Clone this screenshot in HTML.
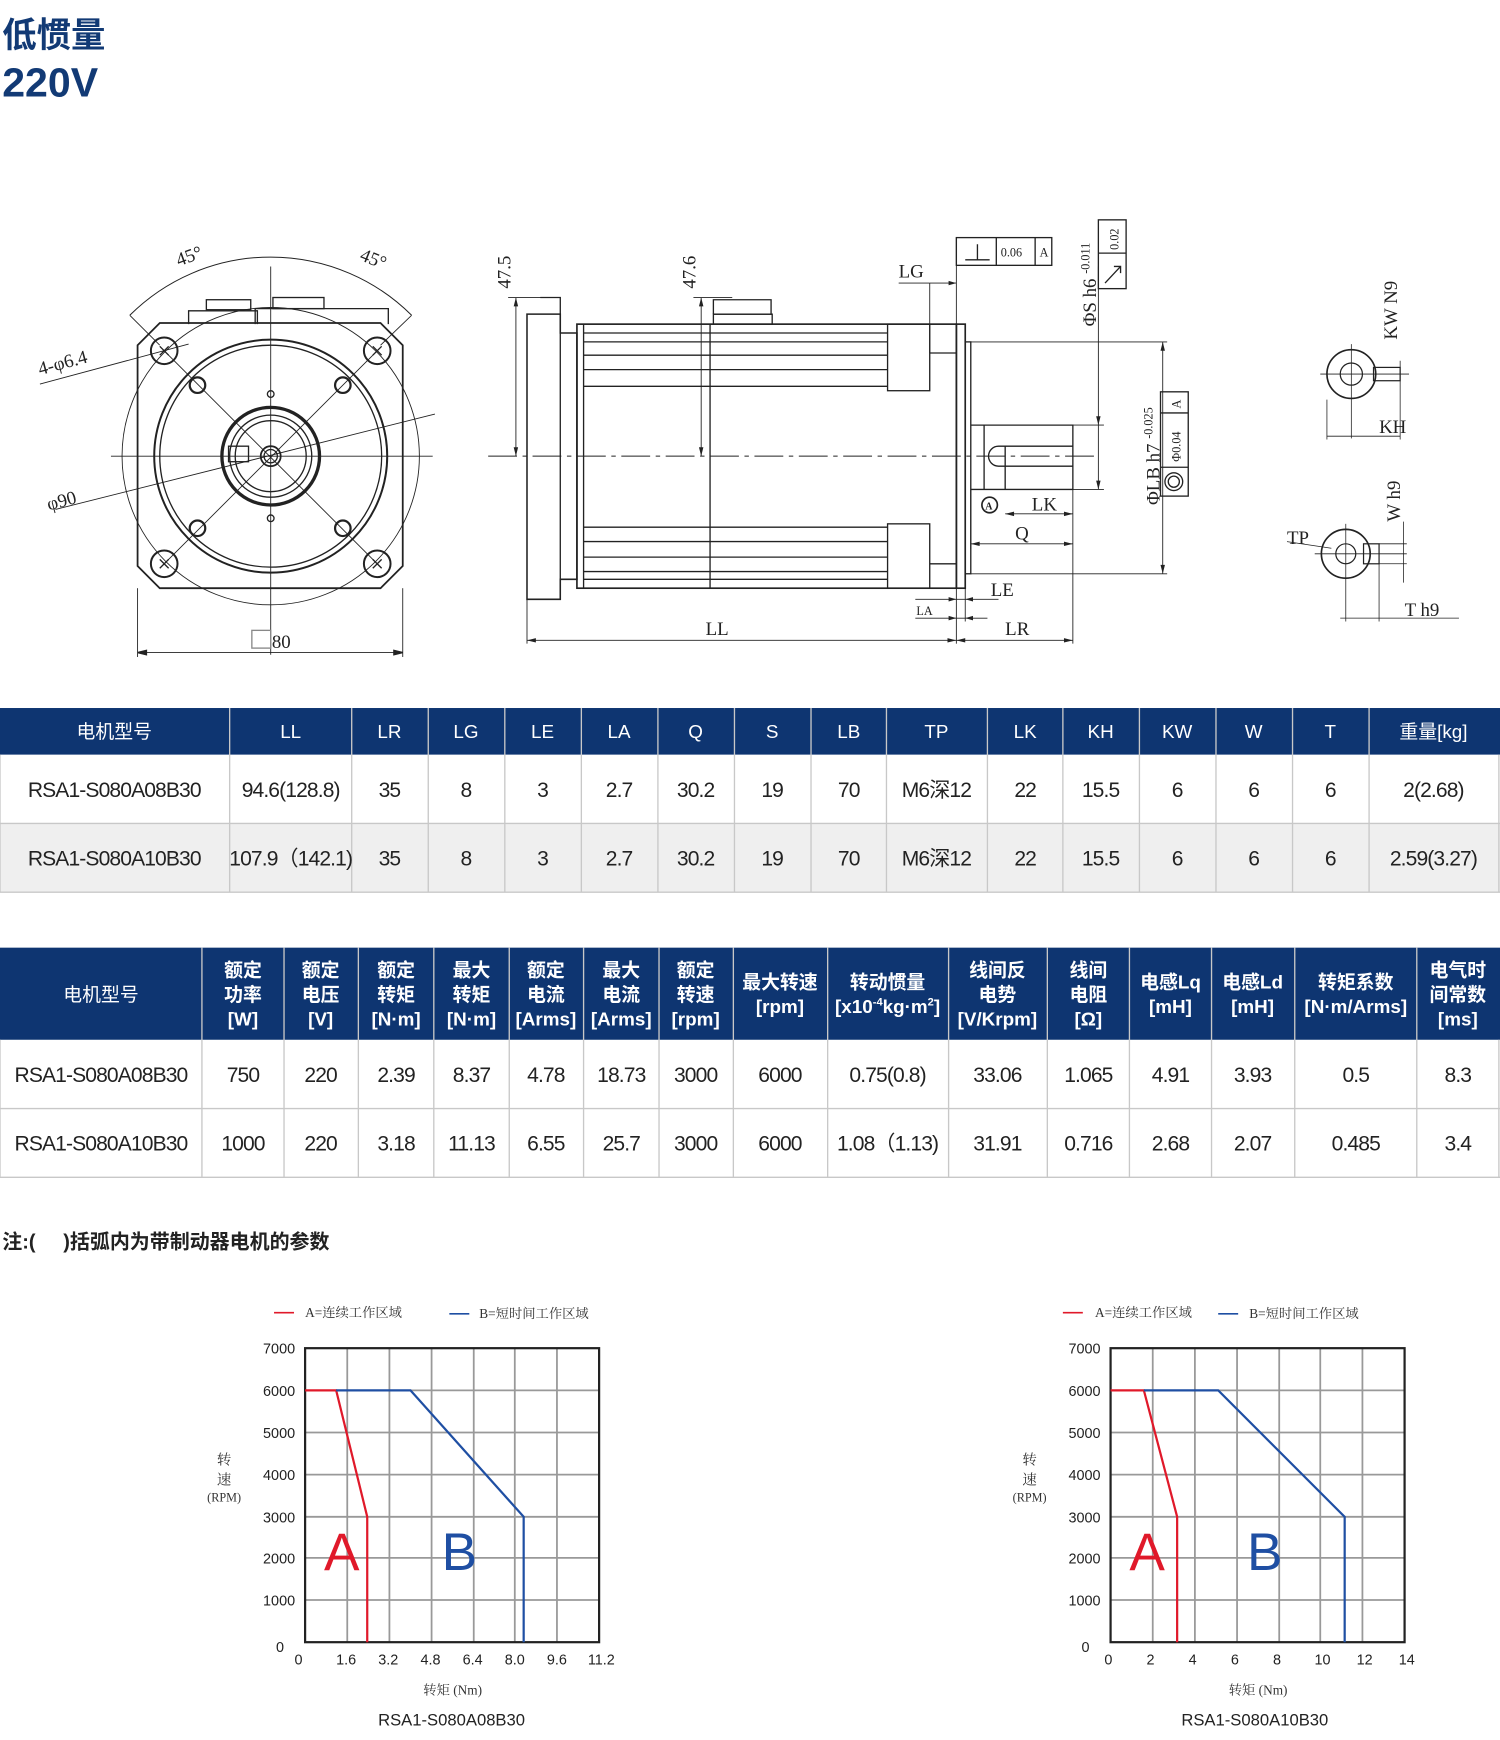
<!DOCTYPE html>
<html><head><meta charset="utf-8"><style>
html,body{margin:0;padding:0;background:#fff;}
svg{display:block;}
.t{font-family:"Liberation Sans","Noto Sans CJK SC",sans-serif;}
.s{font-family:"Liberation Serif","Noto Serif CJK SC",serif;}
</style></head><body>
<svg width="1500" height="1740" viewBox="0 0 1352 1568" xmlns="http://www.w3.org/2000/svg">
<rect width="1352" height="1568" fill="#fff"/>
<text x="2" y="42" class="t" font-size="31" font-weight="bold" fill="#123a75">低惯量</text>
<text x="2" y="87" class="t" font-size="37" font-weight="bold" fill="#123a75">220V</text>

<g stroke="#222" fill="none" stroke-width="1.2">
<path d="M144,291 L343,291 L363,311 L363,510 L343,530 L144,530 L124,510 L124,311 Z" stroke-width="1.6"/>
<circle cx="244" cy="411" r="134" stroke-width="0.8"/>
<circle cx="244" cy="411" r="105" stroke-width="1.8"/>
<circle cx="244" cy="411" r="100"/>
<circle cx="244" cy="411" r="44" stroke-width="3"/>
<circle cx="244" cy="411" r="37"/>
<circle cx="244" cy="411" r="32"/>
<circle cx="244" cy="411" r="9" stroke-width="1.6"/>
<circle cx="244" cy="411" r="6"/>
<rect x="206" y="402" width="18" height="14"/>
<line x1="100" y1="411" x2="390" y2="411" stroke-width="0.8"/>
<line x1="244" y1="240" x2="244" y2="590" stroke-width="0.8"/>
<line x1="148" y1="316" x2="340" y2="508" stroke-width="0.8"/>
<line x1="340" y1="316" x2="148" y2="508" stroke-width="0.8"/>
<circle cx="148" cy="316" r="12" stroke-width="1.8"/><circle cx="340" cy="316" r="12" stroke-width="1.8"/>
<circle cx="148" cy="508" r="12" stroke-width="1.8"/><circle cx="340" cy="508" r="12" stroke-width="1.8"/>
<path d="M144,312l8,8M152,312l-8,8M336,312l8,8M344,312l-8,8M144,504l8,8M152,504l-8,8M336,504l8,8M344,504l-8,8"/>
<circle cx="178" cy="347" r="7" stroke-width="2"/><circle cx="309" cy="347" r="7" stroke-width="2"/>
<circle cx="178" cy="476" r="7" stroke-width="2"/><circle cx="309" cy="476" r="7" stroke-width="2"/>
<circle cx="244" cy="355" r="3"/><circle cx="244" cy="467" r="3"/>
<path d="M170,292 L170,280 L232,280 L232,292 M230,292 L230,278 L350,278 L350,292"/>
<rect x="186" y="270" width="40" height="9"/><rect x="246" y="268" width="46" height="10"/>
<path d="M117,284 A180,180 0 0 1 371,284" stroke-width="0.9"/>
<line x1="117" y1="284" x2="144" y2="311" stroke-width="0.8"/>
<line x1="371" y1="284" x2="343" y2="311" stroke-width="0.8"/>
<line x1="36" y1="346" x2="170" y2="310" stroke-width="0.8"/>
<line x1="50" y1="459" x2="392" y2="373" stroke-width="0.8"/>
<line x1="124" y1="530" x2="124" y2="592" stroke-width="0.8"/>
<line x1="363" y1="530" x2="363" y2="592" stroke-width="0.8"/>
<line x1="124" y1="588" x2="363" y2="588" stroke-width="0.8"/>
<path d="M124,588l8,-2v4z M363,588l-8,-2v4z" fill="#222"/>
<rect x="227" y="568" width="17" height="16" stroke="#888"/>
</g>
<g class="s" font-size="17" fill="#222">
<text x="158" y="238" transform="rotate(-20 165 230)">45°</text>
<text x="325" y="238" transform="rotate(22 335 232)">45°</text>
<text x="36" y="338" transform="rotate(-15 36 338)">4-φ6.4</text>
<text x="44" y="460" transform="rotate(-15 44 460)">φ90</text>
<text x="245" y="584">80</text>
</g>

<g stroke="#222" fill="none" stroke-width="1.2">
<line x1="440" y1="411" x2="990" y2="411" stroke-dasharray="26,5,4,5" stroke-width="0.9"/>
<path d="M475,283 L505,283 L505,300 L520,300 L520,522 L505,522 L505,540 L475,540 Z" stroke-width="1.4"/>
<line x1="505" y1="300" x2="505" y2="522"/>
<path d="M487,268 L505,268 L505,283 M643,283 L643,270 L695,270 L695,283 L643,283"/>
<rect x="643" y="283" width="53" height="9"/>
<rect x="520" y="292" width="342" height="238" stroke-width="1.5"/>
<line x1="526" y1="292" x2="526" y2="530"/>
<line x1="640" y1="292" x2="640" y2="530"/>
<path d="M526,300H800M526,308H800M526,320H800M526,333H800M526,348H800 M526,475H800M526,488H800M526,502H800M526,515H800M526,522H800"/>
<rect x="800" y="292" width="38" height="60"/><rect x="800" y="472" width="38" height="58"/>
<line x1="838" y1="318" x2="862" y2="318"/><line x1="838" y1="508" x2="862" y2="508"/>
<rect x="862" y="292" width="8" height="238" stroke-width="1.5"/>
<rect x="870" y="308" width="5" height="209"/>
<path d="M875,383 L967,383 L967,441 L875,441"/>
<path d="M887,383 L887,441"/>
<path d="M967,402 L900,402 A9,9 0 0 0 900,420 L967,420"/>
<line x1="906" y1="402" x2="906" y2="441"/>
<line x1="465" y1="268" x2="465" y2="411" stroke-width="0.8"/>
<line x1="458" y1="268" x2="500" y2="268" stroke-width="0.8"/>
<line x1="632" y1="268" x2="632" y2="411" stroke-width="0.8"/>
<line x1="625" y1="268" x2="660" y2="268" stroke-width="0.8"/>
<line x1="475" y1="540" x2="475" y2="580" stroke-width="0.8"/>
<line x1="862" y1="530" x2="862" y2="580" stroke-width="0.8"/>
<line x1="967" y1="441" x2="967" y2="580" stroke-width="0.8"/>
<line x1="475" y1="577" x2="862" y2="577" stroke-width="0.8"/>
<line x1="862" y1="577" x2="967" y2="577" stroke-width="0.8"/>
<line x1="825" y1="540" x2="900" y2="540" stroke-width="0.8"/>
<line x1="825" y1="557" x2="890" y2="557" stroke-width="0.8"/>
<line x1="870" y1="530" x2="870" y2="560" stroke-width="0.8"/>
<line x1="875" y1="490" x2="967" y2="490" stroke-width="0.8"/>
<line x1="906" y1="463" x2="967" y2="463" stroke-width="0.8"/>
<line x1="875" y1="441" x2="875" y2="495" stroke-width="0.8"/>
<line x1="838" y1="255" x2="862" y2="255" stroke-width="0.8"/>
<line x1="810" y1="255" x2="838" y2="255" stroke-width="0.8"/>
<line x1="838" y1="255" x2="838" y2="318" stroke-width="0.8"/>
<line x1="862" y1="214" x2="862" y2="292" stroke-width="0.8"/>
<line x1="990" y1="240" x2="990" y2="441" stroke-width="0.8"/>
<line x1="967" y1="383" x2="995" y2="383" stroke-width="0.8"/>
<line x1="967" y1="441" x2="995" y2="441" stroke-width="0.8"/>
<line x1="1048" y1="308" x2="1048" y2="517" stroke-width="0.8"/>
<line x1="875" y1="308" x2="1052" y2="308" stroke-width="0.8"/>
<line x1="875" y1="517" x2="1052" y2="517" stroke-width="0.8"/>
<rect x="862" y="214" width="86" height="25"/>
<line x1="898" y1="214" x2="898" y2="239"/><line x1="933" y1="214" x2="933" y2="239"/>
<path d="M870,234H892M881,220V234"/>
<rect x="990" y="198" width="25" height="62"/><line x1="990" y1="228" x2="1015" y2="228"/>
<path d="M996,255 L1010,240 M1004,240h6v6"/>
<rect x="1046" y="353" width="25" height="94"/>
<line x1="1046" y1="372" x2="1071" y2="372"/><line x1="1046" y1="421" x2="1071" y2="421"/>
<circle cx="1058" cy="434" r="8"/><circle cx="1058" cy="434" r="5"/>
<circle cx="892" cy="455" r="7" stroke-width="1.5"/>
</g>
<g fill="#222">
<path d="M465,268l-2,8h4z M465,411l-2,-8h4z M632,268l-2,8h4z M632,411l-2,-8h4z M475,577l8,-2v4z M862,577l-8,-2v4z M862,577l8,-2v4z M967,577l-8,-2v4z M875,490l8,-2v4z M967,490l-8,-2v4z M906,463l8,-2v4z M967,463l-8,-2v4z M1048,308l-2,8h4z M1048,517l-2,-8h4z M990,383l-2,-8h4z M990,441l-2,-8h4z M862,255l-7,-2v4z M862,540l-7,-2v4z M870,540l7,-2v4z M862,557l-7,-2v4z M870,557l7,-2v4z"/>
</g>
<g class="s" font-size="17" fill="#222">
<text x="460" y="260" transform="rotate(-90 460 260)">47.5</text>
<text x="627" y="260" transform="rotate(-90 627 260)">47.6</text>
<text x="810" y="250">LG</text>
<text x="636" y="572">LL</text>
<text x="906" y="572">LR</text>
<text x="893" y="537">LE</text>
<text x="826" y="554" font-size="11">LA</text>
<text x="915" y="486">Q</text>
<text x="930" y="460">LK</text>
<text x="888" y="459" font-size="9" font-weight="bold">A</text>
<text x="902" y="231" font-size="11">0.06</text>
<text x="937" y="231" font-size="11">A</text>
<text x="988" y="294" transform="rotate(-90 988 294)">ΦS h6 <tspan font-size="11" dy="-6">-0.011</tspan></text>
<text x="1008" y="225" transform="rotate(-90 1008 225)" font-size="11">0.02</text>
<text x="1045" y="455" transform="rotate(-90 1045 455)">ΦLB h7 <tspan font-size="11" dy="-6">-0.025</tspan></text>
<text x="1064" y="416" transform="rotate(-90 1064 416)" font-size="11">Φ0.04</text>
<text x="1064" y="368" transform="rotate(-90 1064 368)" font-size="11">A</text>
</g>

<g stroke="#222" fill="none" stroke-width="1.1">
<circle cx="1218" cy="337" r="22" stroke-width="1.5"/>
<circle cx="1218" cy="337" r="10"/>
<rect x="1238" y="331" width="24" height="12"/>
<line x1="1190" y1="337" x2="1270" y2="337" stroke-width="0.7"/>
<line x1="1218" y1="310" x2="1218" y2="395" stroke-width="0.7"/>
<line x1="1262" y1="325" x2="1262" y2="396" stroke-width="0.7"/>
<line x1="1196" y1="360" x2="1196" y2="396" stroke-width="0.7"/>
<line x1="1196" y1="393" x2="1262" y2="393" stroke-width="0.7"/>
<circle cx="1213" cy="499" r="22" stroke-width="1.5"/>
<circle cx="1213" cy="499" r="9"/>
<rect x="1229" y="490" width="14" height="18"/>
<line x1="1185" y1="499" x2="1268" y2="499" stroke-width="0.7"/>
<line x1="1213" y1="472" x2="1213" y2="560" stroke-width="0.7"/>
<line x1="1243" y1="490" x2="1268" y2="490" stroke-width="0.7"/>
<line x1="1243" y1="508" x2="1268" y2="508" stroke-width="0.7"/>
<line x1="1265" y1="470" x2="1265" y2="525" stroke-width="0.7"/>
<line x1="1243" y1="508" x2="1243" y2="560" stroke-width="0.7"/>
<line x1="1208" y1="557" x2="1315" y2="557" stroke-width="0.7"/>
<line x1="1160" y1="488" x2="1200" y2="494" stroke-width="0.7"/>
</g>
<g class="s" font-size="17" fill="#222">
<text x="1259" y="306" transform="rotate(-90 1259 306)">KW N9</text>
<text x="1243" y="390">KH</text>
<text x="1262" y="470" transform="rotate(-90 1262 470)">W h9</text>
<text x="1160" y="490">TP</text>
<text x="1266" y="555">T h9</text>
</g>

<g class="t">
<rect x="0" y="638" width="1352" height="42" fill="#0e3571"/>
<rect x="0" y="742" width="1352" height="62" fill="#efefef"/>
<g stroke="#c8c8c8" stroke-width="1.2">
<line x1="0" y1="742" x2="1352" y2="742"/><line x1="0" y1="804" x2="1352" y2="804"/>
<path d="M207,638V804M317,638V804M386,638V804M455,638V804M524,638V804M593,638V804M662,638V804M731,638V804M799,638V804M890,638V804M958,638V804M1027,638V804M1096,638V804M1165,638V804M1234,638V804M0,680V804M1351,680V804"/>
</g>
<g fill="#fff" font-size="17" text-anchor="middle">
<text x="103" y="665">电机型号</text><text x="262" y="665">LL</text><text x="351" y="665">LR</text><text x="420" y="665">LG</text><text x="489" y="665">LE</text><text x="558" y="665">LA</text><text x="627" y="665">Q</text><text x="696" y="665">S</text><text x="765" y="665">LB</text><text x="844" y="665">TP</text><text x="924" y="665">LK</text><text x="992" y="665">KH</text><text x="1061" y="665">KW</text><text x="1130" y="665">W</text><text x="1199" y="665">T</text><text x="1292" y="665">重量[kg]</text>
</g>
<g fill="#222" font-size="19" text-anchor="middle" letter-spacing="-0.8">
<text x="103" y="718">RSA1-S080A08B30</text><text x="262" y="718">94.6(128.8)</text><text x="351" y="718">35</text><text x="420" y="718">8</text><text x="489" y="718">3</text><text x="558" y="718">2.7</text><text x="627" y="718">30.2</text><text x="696" y="718">19</text><text x="765" y="718">70</text><text x="844" y="718">M6深12</text><text x="924" y="718">22</text><text x="992" y="718">15.5</text><text x="1061" y="718">6</text><text x="1130" y="718">6</text><text x="1199" y="718">6</text><text x="1292" y="718">2(2.68)</text>
<text x="103" y="780">RSA1-S080A10B30</text><text x="262" y="780">107.9（142.1)</text><text x="351" y="780">35</text><text x="420" y="780">8</text><text x="489" y="780">3</text><text x="558" y="780">2.7</text><text x="627" y="780">30.2</text><text x="696" y="780">19</text><text x="765" y="780">70</text><text x="844" y="780">M6深12</text><text x="924" y="780">22</text><text x="992" y="780">15.5</text><text x="1061" y="780">6</text><text x="1130" y="780">6</text><text x="1199" y="780">6</text><text x="1292" y="780">2.59(3.27)</text>
</g>
</g>

<g class="t">
<rect x="0" y="854" width="1352" height="83" fill="#0e3571"/>
<g stroke="#c8c8c8" stroke-width="1.2">
<line x1="0" y1="999" x2="1352" y2="999"/><line x1="0" y1="1061" x2="1352" y2="1061"/>
<path d="M182,854V1061M256,854V1061M323,854V1061M391,854V1061M459,854V1061M526,854V1061M594,854V1061M661,854V1061M746,854V1061M855,854V1061M944,854V1061M1018,854V1061M1092,854V1061M1167,854V1061M1277,854V1061M0,937V1061M1351,937V1061"/>
</g>
<g fill="#fff" font-size="17" text-anchor="middle" font-weight="bold">
<text x="91" y="902" font-weight="normal">电机型号</text>
<text x="219" y="880">额定</text><text x="219" y="902">功率</text><text x="219" y="924">[W]</text>
<text x="289" y="880">额定</text><text x="289" y="902">电压</text><text x="289" y="924">[V]</text>
<text x="357" y="880">额定</text><text x="357" y="902">转矩</text><text x="357" y="924">[N·m]</text>
<text x="425" y="880">最大</text><text x="425" y="902">转矩</text><text x="425" y="924">[N·m]</text>
<text x="492" y="880">额定</text><text x="492" y="902">电流</text><text x="492" y="924">[Arms]</text>
<text x="560" y="880">最大</text><text x="560" y="902">电流</text><text x="560" y="924">[Arms]</text>
<text x="627" y="880">额定</text><text x="627" y="902">转速</text><text x="627" y="924">[rpm]</text>
<text x="703" y="891">最大转速</text><text x="703" y="913">[rpm]</text>
<text x="800" y="891">转动惯量</text><text x="800" y="913">[x10<tspan font-size="10" dy="-7">-4</tspan><tspan dy="7">kg·m</tspan><tspan font-size="10" dy="-7">2</tspan><tspan dy="7">]</tspan></text>
<text x="899" y="880">线间反</text><text x="899" y="902">电势</text><text x="899" y="924">[V/Krpm]</text>
<text x="981" y="880">线间</text><text x="981" y="902">电阻</text><text x="981" y="924">[Ω]</text>
<text x="1055" y="891">电感Lq</text><text x="1055" y="913">[mH]</text>
<text x="1129" y="891">电感Ld</text><text x="1129" y="913">[mH]</text>
<text x="1222" y="891">转矩系数</text><text x="1222" y="913">[N·m/Arms]</text>
<text x="1314" y="880">电气时</text><text x="1314" y="902">间常数</text><text x="1314" y="924">[ms]</text>
</g>
<g fill="#222" font-size="19" text-anchor="middle" letter-spacing="-0.8">
<text x="91" y="975">RSA1-S080A08B30</text><text x="219" y="975">750</text><text x="289" y="975">220</text><text x="357" y="975">2.39</text><text x="425" y="975">8.37</text><text x="492" y="975">4.78</text><text x="560" y="975">18.73</text><text x="627" y="975">3000</text><text x="703" y="975">6000</text><text x="800" y="975">0.75(0.8)</text><text x="899" y="975">33.06</text><text x="981" y="975">1.065</text><text x="1055" y="975">4.91</text><text x="1129" y="975">3.93</text><text x="1222" y="975">0.5</text><text x="1314" y="975">8.3</text>
<text x="91" y="1037">RSA1-S080A10B30</text><text x="219" y="1037">1000</text><text x="289" y="1037">220</text><text x="357" y="1037">3.18</text><text x="425" y="1037">11.13</text><text x="492" y="1037">6.55</text><text x="560" y="1037">25.7</text><text x="627" y="1037">3000</text><text x="703" y="1037">6000</text><text x="800" y="1037">1.08（1.13)</text><text x="899" y="1037">31.91</text><text x="981" y="1037">0.716</text><text x="1055" y="1037">2.68</text><text x="1129" y="1037">2.07</text><text x="1222" y="1037">0.485</text><text x="1314" y="1037">3.4</text>
</g>
<text x="2" y="1125" font-size="18" font-weight="bold" fill="#222">注:(&#160;&#160;&#160;&#160;&#160;)括弧内为带制动器电机的参数</text>
</g>

<g>
<g stroke="#999" stroke-width="1.6">
<path d="M313,1215V1480M351,1215V1480M389,1215V1480M427,1215V1480M464,1215V1480M502,1215V1480M275,1253H540M275,1291H540M275,1329H540M275,1367H540M275,1404H540M275,1442H540"/>
</g>
<rect x="275" y="1215" width="265" height="265" fill="none" stroke="#222" stroke-width="2"/>
<polyline points="275,1253 303,1253 331,1367 331,1480" fill="none" stroke="#e0192a" stroke-width="2"/>
<polyline points="303,1253 370,1253 472,1367 472,1480" fill="none" stroke="#1f4fa3" stroke-width="2"/>
<text x="292" y="1415" class="t" font-size="48" fill="#e0192a">A</text>
<text x="398" y="1415" class="t" font-size="48" fill="#1f4fa3">B</text>
<g class="t" font-size="13" fill="#222" text-anchor="end">
<text x="266" y="1220">7000</text><text x="266" y="1258">6000</text><text x="266" y="1296">5000</text><text x="266" y="1334">4000</text><text x="266" y="1372">3000</text><text x="266" y="1409">2000</text><text x="266" y="1447">1000</text><text x="256" y="1489">0</text>
</g>
<g class="t" font-size="13" fill="#222" text-anchor="middle">
<text x="269" y="1500">0</text><text x="312" y="1500">1.6</text><text x="350" y="1500">3.2</text><text x="388" y="1500">4.8</text><text x="426" y="1500">6.4</text><text x="464" y="1500">8.0</text><text x="502" y="1500">9.6</text><text x="542" y="1500">11.2</text>
</g>
<g class="s" font-size="12" fill="#333">
<line x1="247" y1="1183" x2="265" y2="1183" stroke="#e0192a" stroke-width="1.5"/>
<text x="275" y="1187">A=连续工作区域</text>
<line x1="405" y1="1184" x2="423" y2="1184" stroke="#1f4fa3" stroke-width="1.5"/>
<text x="432" y="1188">B=短时间工作区域</text>
<text x="202" y="1320" text-anchor="middle" font-size="13">转</text>
<text x="202" y="1338" text-anchor="middle" font-size="13">速</text>
<text x="202" y="1353" text-anchor="middle" font-size="11">(RPM)</text>
<text x="408" y="1527" text-anchor="middle">转矩 (Nm)</text>
</g>
<text x="407" y="1555" class="t" font-size="15" fill="#222" text-anchor="middle">RSA1-S080A08B30</text>
</g>

<g transform="translate(726,0)">
<g stroke="#999" stroke-width="1.6">
<path d="M313,1215V1480M351,1215V1480M389,1215V1480M427,1215V1480M464,1215V1480M502,1215V1480M275,1253H540M275,1291H540M275,1329H540M275,1367H540M275,1404H540M275,1442H540"/>
</g>
<rect x="275" y="1215" width="265" height="265" fill="none" stroke="#222" stroke-width="2"/>
<polyline points="275,1253 305,1253 335,1367 335,1480" fill="none" stroke="#e0192a" stroke-width="2"/>
<polyline points="305,1253 372,1253 486,1367 486,1480" fill="none" stroke="#1f4fa3" stroke-width="2"/>
<text x="292" y="1415" class="t" font-size="48" fill="#e0192a">A</text>
<text x="398" y="1415" class="t" font-size="48" fill="#1f4fa3">B</text>
<g class="t" font-size="13" fill="#222" text-anchor="end">
<text x="266" y="1220">7000</text><text x="266" y="1258">6000</text><text x="266" y="1296">5000</text><text x="266" y="1334">4000</text><text x="266" y="1372">3000</text><text x="266" y="1409">2000</text><text x="266" y="1447">1000</text><text x="256" y="1489">0</text>
</g>
<g class="t" font-size="13" fill="#222" text-anchor="middle">
<text x="273" y="1500">0</text><text x="311" y="1500">2</text><text x="349" y="1500">4</text><text x="387" y="1500">6</text><text x="425" y="1500">8</text><text x="466" y="1500">10</text><text x="504" y="1500">12</text><text x="542" y="1500">14</text>
</g>
<g class="s" font-size="12" fill="#333">
<line x1="232" y1="1183" x2="250" y2="1183" stroke="#e0192a" stroke-width="1.5"/>
<text x="261" y="1187">A=连续工作区域</text>
<line x1="372" y1="1184" x2="390" y2="1184" stroke="#1f4fa3" stroke-width="1.5"/>
<text x="400" y="1188">B=短时间工作区域</text>
<text x="202" y="1320" text-anchor="middle" font-size="13">转</text>
<text x="202" y="1338" text-anchor="middle" font-size="13">速</text>
<text x="202" y="1353" text-anchor="middle" font-size="11">(RPM)</text>
<text x="408" y="1527" text-anchor="middle">转矩 (Nm)</text>
</g>
<text x="405" y="1555" class="t" font-size="15" fill="#222" text-anchor="middle">RSA1-S080A10B30</text>
</g>
</svg>
</body></html>
